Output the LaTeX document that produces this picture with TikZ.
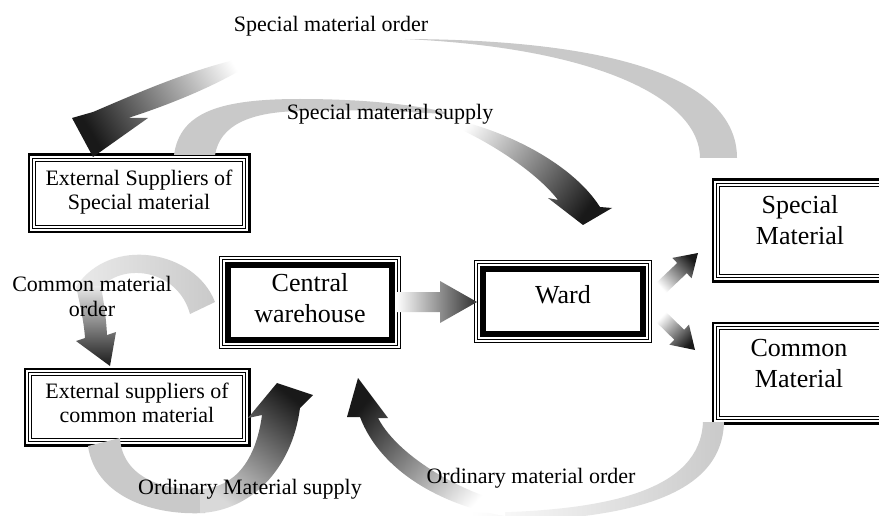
\documentclass[tikz,border=0pt]{standalone}
\usepackage{fontspec}
\setmainfont{Liberation Serif}
\definecolor{bandgray}{gray}{0.79}
\definecolor{darkend}{gray}{0.1}
\newcommand\mytribox[1]{%
  \draw[line width=2.6pt] (#1.north west) rectangle (#1.south east);
  \draw[line width=0.9pt] ([shift={(3.8,3.8)}]#1.north west) rectangle ([shift={(-3.8,-3.8)}]#1.south east);
  \draw[line width=1.6pt] ([shift={(6.6,6.6)}]#1.north west) rectangle ([shift={(-6.6,-6.6)}]#1.south east);
}
\newcommand\mythickbox[1]{%
  \draw[line width=0.9pt] (#1.north west) rectangle (#1.south east);
  \draw[line width=0.9pt] ([shift={(2.8,2.8)}]#1.north west) rectangle ([shift={(-2.8,-2.8)}]#1.south east);
  \draw[line width=5.5pt] ([shift={(8.2,8.2)}]#1.north west) rectangle ([shift={(-8.2,-8.2)}]#1.south east);
}
\begin{document}
\begin{tikzpicture}[x=1pt,y=-1pt,
  boxnode/.style={draw=none, fill=white, inner sep=0pt},
  lab/.style={font=\fontsize{22}{24.2}\selectfont, inner sep=0pt, align=center},
  bigtxt/.style={font=\fontsize{26}{31}\selectfont, inner sep=0pt, align=center}]
\useasboundingbox[fill=white] (0,0) rectangle (879,516);

% ---------- boxes ----------
\node[boxnode, minimum width=220pt, minimum height=77pt] (extspec) at (139,193.5) {};
\node[boxnode, minimum width=224pt, minimum height=76pt] (extcom) at (137,407) {};
\node[boxnode, minimum width=180pt, minimum height=91pt] (central) at (310,302.5) {};
\node[boxnode, minimum width=176pt, minimum height=81pt] (ward) at (563,301.5) {};
\node[boxnode, minimum width=176pt, minimum height=101pt] (special) at (801,230.5) {};
\node[boxnode, minimum width=176pt, minimum height=100pt] (common) at (801,373) {};
\mytribox{extspec}
\mytribox{extcom}
\mytribox{special}
\mytribox{common}
\mythickbox{central}
\mythickbox{ward}

% ---------- arrow: special material order ----------
\fill[bandgray] (737,158) .. controls (737,88) and (640,40) .. (405,39)
   .. controls (600,48) and (700,100) .. (700,158) -- cycle;
\shade[top color=darkend, bottom color=white, shading angle=121]
   (262,54) .. controls (200,65) and (140,92) .. (93,112) -- (72,118) -- (93,157)
   -- (148,118) -- (128,118) .. controls (175,103) and (230,80) .. (262,56) -- cycle;

% ---------- arrow: special material supply ----------
\fill[bandgray] (174,155) .. controls (180,112) and (220,99) .. (300,99)
   .. controls (360,99) and (410,104) .. (445,112) -- (445,114)
   .. controls (410,112) and (360,109) .. (300,111)
   .. controls (250,112) and (220,125) .. (215,155) -- cycle;
\shade[top color=darkend, bottom color=white, shading angle=-126.4]
   (436,116) .. controls (495,125) and (570,160) .. (600,207) -- (612,208) -- (583,225)
   -- (548,198) -- (558,200) .. controls (535,170) and (480,135) .. (436,119) -- cycle;

% ---------- arrow: central -> ward ----------
\shade[left color=white, right color=darkend!90!white]
   (396,292) -- (440,292) -- (440,281) -- (477,302) -- (440,323) -- (440,312) -- (396,312) -- cycle;

% ---------- arrows: ward -> special / common ----------
\shade[top color=darkend, bottom color=white, shading angle=-46.5]
   (655.2,283.9) -- (677.2,263.0) -- (672.4,257.9) -- (698,253) -- (691.6,278.3)
   -- (686.8,273.2) -- (664.8,294.1) -- cycle;
\shade[top color=darkend, bottom color=white, shading angle=-134.2]
   (664.9,311.0) -- (684.1,329.7) -- (689.0,324.7) -- (695,350) -- (669.4,344.7)
   -- (674.3,339.7) -- (655.1,321.0) -- cycle;

% ---------- arrow: common material order ----------
\shade[left color=bandgray!40!white, middle color=bandgray, right color=bandgray]
   (215,302) .. controls (195,250) and (110,235) .. (76,287) -- (101,287)
   .. controls (125,262) and (178,270) .. (190,314) -- cycle;
\shade[top color=bandgray!40!white, bottom color=darkend]
   (76,286) .. controls (80,305) and (84,322) .. (85,338) -- (76,341) -- (110,366)
   -- (116,332) -- (107,335) .. controls (106,315) and (103,298) .. (101,286) -- cycle;

% ---------- arrow: ordinary material supply ----------
\fill[bandgray] (88,446) .. controls (95,495) and (150,516) .. (205,513) -- (205,489)
   .. controls (160,492) and (122,475) .. (120,438) -- cycle;
\shade[top color=darkend, bottom color=gray!30, shading angle=-38]
   (200,513) .. controls (250,511) and (292,470) .. (300,408) -- (313,395) -- (277,383)
   -- (248,418) -- (262,415) .. controls (256,460) and (235,488) .. (200,489) -- cycle;

% ---------- arrow: ordinary material order ----------
\shade[left color=white, middle color=bandgray, right color=bandgray]
   (703,422) -- (724,422) .. controls (722,500) and (620,522) .. (470,522) -- (470,513)
   .. controls (610,512) and (700,490) .. (703,422) -- cycle;
\shade[top color=darkend, bottom color=white, shading angle=48.3]
   (505,502) .. controls (470,495) and (400,460) .. (378,418) -- (388,418) -- (358,378)
   -- (347,417) -- (360,417) .. controls (380,470) and (440,505) .. (505,516) -- cycle;

% ---------- texts ----------
\node[lab] (textspec) at (139,192.4) {External Suppliers of\\Special material};
\node[lab] (textcom) at (137,402.5) {External suppliers of\\common material};
\node[bigtxt] (textcentral) at (310,298.5) {Central\\warehouse};
\node[bigtxt] (textward) at (563,295) {Ward};
\node[bigtxt] (textspecial) at (800,220) {Special\\Material};
\node[bigtxt] (textcommon) at (799,363.7) {Common\\Material};
\node[lab, anchor=base] (lorder) at (331,32) {Special material order};
\node[lab, anchor=base] (lsupply) at (390,120) {Special material supply};
\node[lab] (lcomorder) at (92,296.5) {Common material\\order};
\node[lab, anchor=base] (lordsupply) at (250,494) {Ordinary Material supply};
\node[lab, anchor=base] (lordorder) at (531,483) {Ordinary material order};
\end{tikzpicture}
\end{document}
